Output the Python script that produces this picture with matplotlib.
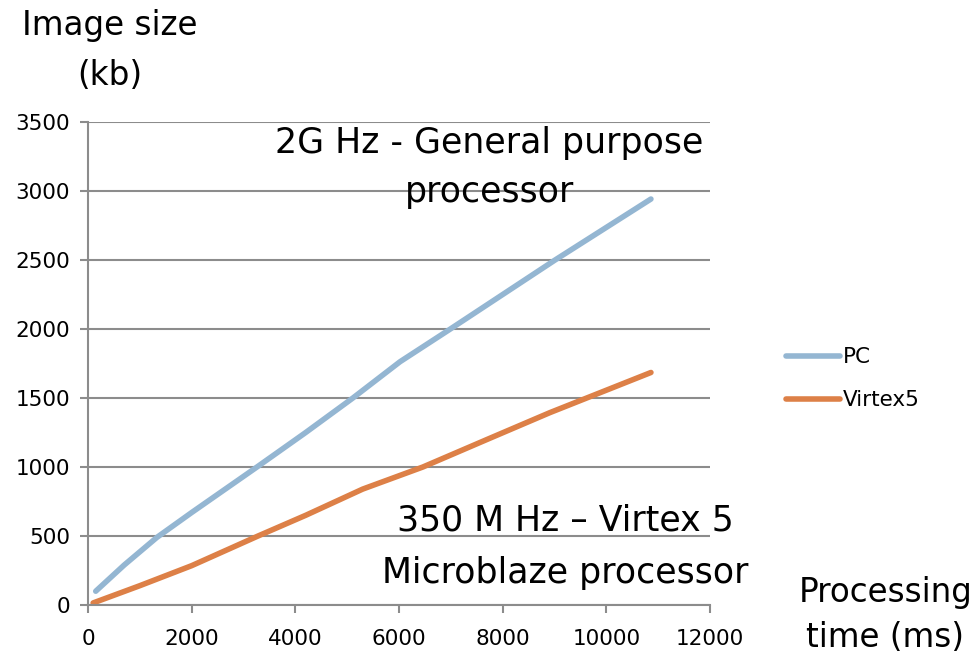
import matplotlib
matplotlib.use("Agg")
import matplotlib.pyplot as plt

# data
pc_time = [150, 700, 1330, 2000, 3260, 4200, 5110, 6020, 6990, 8000, 9010, 10860]
pc_size = [100, 290, 490, 670, 1000, 1250, 1500, 1763, 2000, 2250, 2500, 2942]
vx_time = [100, 1000, 2000, 3280, 4200, 5300, 6460, 7700, 8910, 10860]
vx_size = [15, 140, 285, 500, 650, 840, 1000, 1200, 1394, 1685]

x_ticks = [0, 2000, 4000, 6000, 8000, 10000, 12000]
y_ticks = [0, 500, 1000, 1500, 2000, 2500, 3000, 3500]

plt.rcParams['font.family'] = ['DejaVu Sans']

GRID = '#8c8c8c'
BLUE = '#94b6d2'
ORANGE = '#dd8047'

fig = plt.figure(figsize=(9.74, 6.61), dpi=100)
ax = fig.add_axes([0.0903, 0.0847, 0.6387, 0.7307])

ax.plot(pc_time, pc_size, color=BLUE, lw=4, solid_capstyle='round',
        solid_joinstyle='round', label='PC')
ax.plot(vx_time, vx_size, color=ORANGE, lw=4, solid_capstyle='round',
        solid_joinstyle='round', label='Virtex5')

ax.set_xlim(0, 12000)
ax.set_ylim(0, 3500)
ax.set_xticks(x_ticks)
ax.set_yticks(y_ticks)
ax.set_xticklabels([str(v) for v in x_ticks])
ax.set_yticklabels([str(v) for v in y_ticks])
ax.tick_params(axis='both', labelsize=15.5, color=GRID, width=1.5, length=6)
ax.tick_params(axis='y', pad=7)
ax.tick_params(axis='x', pad=11)
ax.grid(True, axis='y', color=GRID, lw=1.5)
ax.set_axisbelow(True)
for s in ['top', 'right']:
    ax.spines[s].set_visible(False)
for s in ['left', 'bottom']:
    ax.spines[s].set_color(GRID)
    ax.spines[s].set_linewidth(1.5)

# axis titles placed as free text
fig.text(0.113, 0.962, 'Image size', fontsize=23.5, ha='center', va='center')
fig.text(0.113, 0.886, '(kb)', fontsize=23.5, ha='center', va='center')
fig.text(0.909, 0.104, 'Processing', fontsize=23.5, ha='center', va='center')
fig.text(0.909, 0.036, 'time (ms)', fontsize=23.5, ha='center', va='center')

# annotations
fig.text(0.502, 0.784, '2G Hz - General purpose', fontsize=25, ha='center', va='center')
fig.text(0.503, 0.709, 'processor', fontsize=25, ha='center', va='center')
fig.text(0.580, 0.213, '350 M Hz \u2013 Virtex 5', fontsize=25, ha='center', va='center')
fig.text(0.580, 0.133, 'Microblaze processor', fontsize=25, ha='center', va='center')

leg = fig.legend(loc='center left', bbox_to_anchor=(0.796, 0.427), frameon=False,
                 borderpad=0, fontsize=15.5, handlelength=2.5, handletextpad=0.15,
                 labelspacing=1.05)

fig.savefig('out.png', dpi=100)
